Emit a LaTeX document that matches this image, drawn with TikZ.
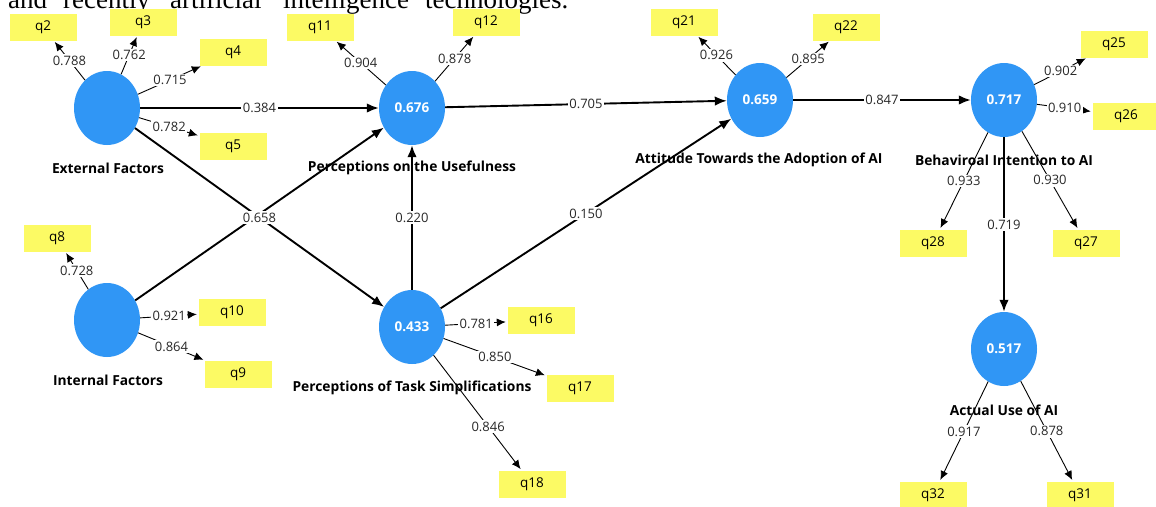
\documentclass[tikz,border=0pt]{standalone}
\usepackage{fontspec}
\setmainfont{Open Sans}
\newfontfamily\serifwords{Liberation Serif}
\usetikzlibrary{shapes.geometric,arrows.meta}
\definecolor{lvblue}{RGB}{48,150,245}
\definecolor{indyel}{RGB}{252,250,100}
\definecolor{coefgray}{RGB}{40,40,40}
\begin{document}
\begin{tikzpicture}[x=1pt,y=-1pt,
  lv/.style={ellipse, fill=lvblue, minimum width=66pt, minimum height=74pt, inner sep=0pt, text=white, font=\fontsize{13.5}{15}\selectfont\bfseries},
  ind/.style={rectangle, fill=indyel, minimum width=67pt, minimum height=27pt, inner sep=0pt, font=\fontsize{13.5}{15}\selectfont},
  lvname/.style={font=\fontsize{13.8}{16}\selectfont\bfseries, inner sep=0pt},
  strpath/.style={line width=1.9pt, -{Latex[length=12pt,width=9.5pt]}},
  load/.style={line width=0.9pt, shorten >=1.5pt, -{Latex[length=9pt,width=8pt]}},
  coef/.style={fill=white, inner sep=1.5pt, text=coefgray, font=\fontsize{13}{14}\selectfont},
  topword/.style={anchor=base west, inner sep=0pt, font=\serifwords\fontsize{27}{30}\selectfont},
]
\useasboundingbox (0,0) rectangle (1156,506);
\fill[white] (0,0) rectangle (1156,506);

% cut-off text line at top
\node[topword] (w1) at (8,8.5) {and};
\node[topword] (w2) at (63,8.5) {recently};
\node[topword] (w3) at (170,8.5) {artificial};
\node[topword] (w4) at (283,8.5) {intelligence};
\node[topword] (w5) at (425,8.5) {technologies.};

% latent variables
\node[lv] (ext) at (107,108) {};
\node[lv] (int) at (107,320) {};
\node[lv] (use) at (412,108) {0.676};
\node[lv] (task) at (412,327) {0.433};
\node[lv] (att) at (760,100) {0.659};
\node[lv] (bi) at (1004,100) {0.717};
\node[lv] (au) at (1004,349) {0.517};

% names
\node[lvname] (extn) at (108,168) {External Factors};
\node[lvname] (intn) at (108,380) {Internal Factors};
\node[lvname] (usen) at (412,168) {Perceptions on the Usefulness};
\node[lvname] (taskn) at (412,388) {Perceptions of Task Simplifications};
\node[lvname] (attn) at (759,160) {Attitude Towards the Adoption of AI};
\node[lvname] (bin) at (1004,160) {Behaviroal Intention to AI};
\node[lvname] (aun) at (1004,410) {Actual Use of AI};

% indicators
\node[ind] (q2) at (43,27) {q2};
\node[ind] (q3) at (143,22) {q3};
\node[ind] (q4) at (233,52) {q4};
\node[ind] (q5) at (233,146) {q5};
\node[ind] (q8) at (57,238) {q8};
\node[ind] (q10) at (232,312) {q10};
\node[ind] (q9) at (238,374) {q9};
\node[ind] (q11) at (320,27) {q11};
\node[ind] (q12) at (486,22) {q12};
\node[ind] (q16) at (541,320) {q16};
\node[ind] (q17) at (580,388) {q17};
\node[ind] (q18) at (532,484) {q18};
\node[ind] (q21) at (684,22) {q21};
\node[ind] (q22) at (846,27) {q22};
\node[ind] (q25) at (1114,44) {q25};
\node[ind] (q26) at (1126,116) {q26};
\node[ind] (q28) at (933,243) {q28};
\node[ind] (q27) at (1086,243) {q27};
\node[ind] (q32) at (933,495) {q32};
\node[ind] (q31) at (1080,495) {q31};

% structural paths
\draw[strpath] (int) -- (use);
\draw[strpath] (ext) -- node[coef] {0.658} (task);
\draw[strpath] (ext) -- node[coef] {0.384} (use);
\draw[strpath] (task) -- node[coef] {0.220} (use);
\draw[strpath] (task) -- node[coef] {0.150} (att);
\draw[strpath] (use) -- node[coef] {0.705} (att);
\draw[strpath] (att) -- node[coef] {0.847} (bi);
\draw[strpath] (bi) -- node[coef] {0.719} (au);

% loadings
\draw[load] (ext) -- node[coef] {0.788} (q2);
\draw[load] (ext) -- node[coef] {0.762} (q3);
\draw[load] (ext) -- node[coef] {0.715} (q4);
\draw[load] (ext) -- node[coef] {0.782} (q5);
\draw[load] (int) -- node[coef] {0.728} (q8);
\draw[load] (int) -- node[coef] {0.921} (q10);
\draw[load] (int) -- node[coef] {0.864} (q9);
\draw[load] (use) -- node[coef] {0.904} (q11);
\draw[load] (use) -- node[coef] {0.878} (q12);
\draw[load] (task) -- node[coef] {0.781} (q16);
\draw[load] (task) -- node[coef] {0.850} (q17);
\draw[load] (task) -- node[coef, pos=0.62] {0.846} (q18);
\draw[load] (att) -- node[coef] {0.926} (q21);
\draw[load] (att) -- node[coef] {0.895} (q22);
\draw[load] (bi) -- node[coef] {0.902} (q25);
\draw[load] (bi) -- node[coef] {0.910} (q26);
\draw[load] (bi) -- node[coef] {0.933} (q28);
\draw[load] (bi) -- node[coef] {0.930} (q27);
\draw[load] (au) -- node[coef] {0.917} (q32);
\draw[load] (au) -- node[coef] {0.878} (q31);
\end{tikzpicture}
\end{document}
